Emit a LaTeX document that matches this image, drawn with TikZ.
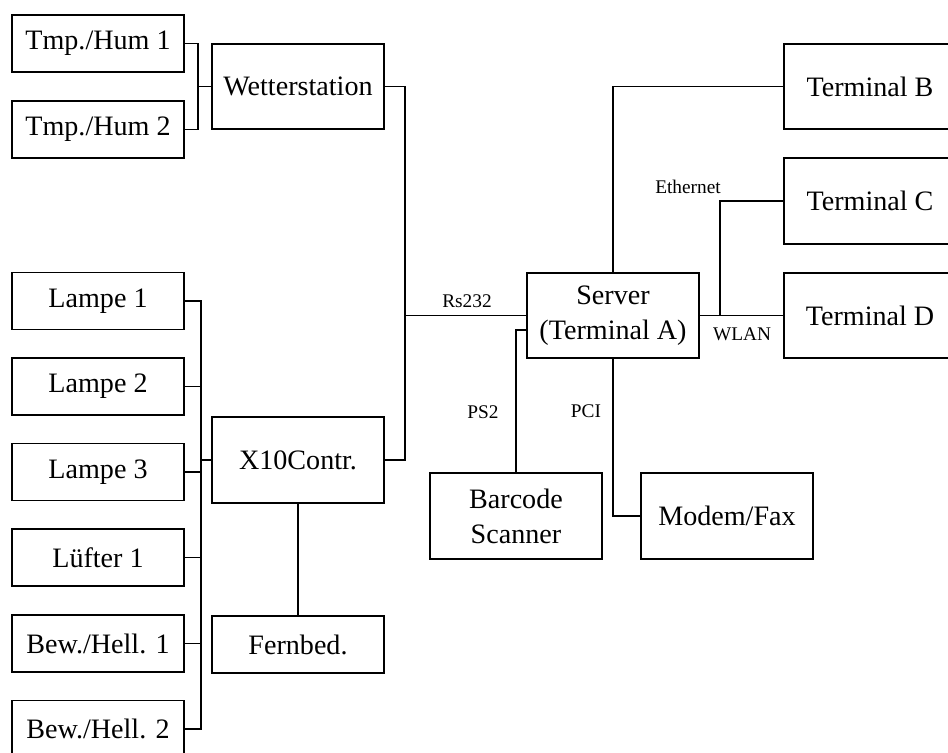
\documentclass[tikz,border=0pt]{standalone}
\usepackage{fontspec}
\setmainfont{Liberation Serif}
\usepackage{tikz}
\usetikzlibrary{calc}

\tikzset{
  box/.style={draw, line width=1.1pt, minimum width=3.44cm, minimum height=1.14cm,
    align=center, inner sep=0pt, font=\fontsize{16}{20}\selectfont},
  bigbox/.style={box, minimum height=1.71cm},
  wire/.style={line width=1.1pt},
  tag/.style={font=\fontsize{11}{13}\selectfont}
}

\begin{document}
\begin{tikzpicture}[x=0.02cm, y=-0.02cm]
  \useasboundingbox (0,0) rectangle (948,753);

  % Wetterstation und Sensoren
  \node[box] (tmp1) at (98,43.5) {Tmp./Hum 1};
  \node[box] (tmp2) at (98,129.5) {Tmp./Hum 2};
  \node[bigbox] (wetter) at (298,86.5) {Wetterstation};
  \coordinate (wj) at (198,86.5);
  \draw[wire] (tmp1.east) -| (wj) |- (tmp2.east);
  \draw[wire] (wj) -- (wetter.west);

  % Lampen, Luefter, Bewegungsmelder
  \node[box] (lampe1) at (98,301) {Lampe 1};
  \node[box] (lampe2) at (98,386.5) {Lampe 2};
  \node[box] (lampe3) at (98,472) {Lampe 3};
  \node[box] (luefter) at (98,557.5) {Lüfter 1};
  \node[box] (bew1) at (98,643.5) {Bew./Hell. 1};
  \node[box] (bew2) at (98,729) {Bew./Hell. 2};
  \node[bigbox] (x10) at (298,460) {X10Contr.};
  \node[box] (fernbed) at (298,644.5) {Fernbed.};
  \coordinate (xj) at (201,460);
  \draw[wire] (lampe1.east) -| (xj) |- (bew2.east);
  \foreach \n in {lampe2,lampe3,luefter,bew1}{
    \draw[wire] (\n.east) -- (\n.east -| xj);
  }
  \draw[wire] (xj) -- (x10.west);
  \draw[wire] (x10.south) -- (fernbed.north);

  % Server und Rs232
  \node[bigbox] (server) at (613,315.5) {Server\\(Terminal A)};
  \coordinate (rsj) at (405,315.5);
  \draw[wire] (wetter.east) -| (rsj) |- (x10.east);
  \draw[wire] (rsj) -- (server.west);
  \node[tag] (rs) at (467,301) {Rs232};

  % Peripherie
  \node[bigbox] (barcode) at (516,516) {Barcode\\Scanner};
  \node[bigbox] (modem) at (727,516) {Modem/Fax};
  \coordinate (ps) at (527,330);
  \draw[wire] (ps) -| (barcode.north);
  \draw[wire] (server.south) |- (modem.west);
  \node[tag] (pstag) at (483,412) {PS2};
  \node[tag] (pcitag) at (586,411) {PCI};

  % Terminals
  \node[bigbox] (termB) at (870,86.5) {Terminal B};
  \node[bigbox] (termC) at (870,201) {Terminal C};
  \node[bigbox] (termD) at (870,315.5) {Terminal D};
  \coordinate (ej) at (720,315.5);
  \draw[wire] (server.north) |- (termB.west);
  \draw[wire] (server.east) -- (termD.west);
  \draw[wire] (ej) |- (termC.west);
  \node[tag] (eth) at (688,187) {Ethernet};
  \node[tag] (wlan) at (742,334) {WLAN};
\end{tikzpicture}
\end{document}
